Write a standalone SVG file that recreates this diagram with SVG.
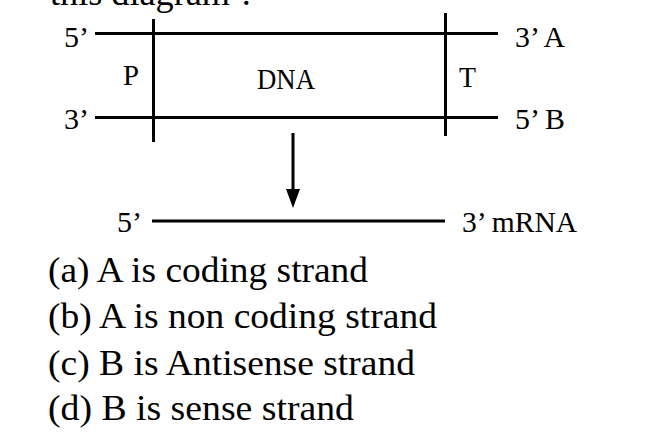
<svg xmlns="http://www.w3.org/2000/svg" width="658" height="434" viewBox="0 0 658 434">
<defs>
<style>
.t{font-family:"Liberation Serif","DejaVu Serif",serif;fill:#000;}
.lbl{font-size:29px;}
.opt{font-size:35px;}
.ln{stroke:#000;stroke-width:3;fill:none;}
</style>
</defs>
<rect width="658" height="434" fill="#fff"/>
<text class="t opt" x="50" y="5" textLength="205" lengthAdjust="spacingAndGlyphs">this diagram ?</text>
<g id="connectors">
<line id="strandA" class="ln" x1="95" y1="33.5" x2="498" y2="33.5"/>
<line id="strandB" class="ln" x1="95" y1="117.5" x2="498" y2="117.5"/>
<line id="promoter-bar" class="ln" x1="153.5" y1="19" x2="153.5" y2="142"/>
<line id="terminator-bar" class="ln" x1="445.5" y1="13" x2="445.5" y2="136"/>
<path id="arrow" d="M293,133 L293,190" class="ln"/>
<path d="M286,189 L300,189 L293,208 Z" fill="#000"/>
<line id="mrna" class="ln" x1="152" y1="221" x2="445" y2="221"/>
</g>
<g id="node-5a"><text class="t lbl" x="64" y="47" textLength="25" lengthAdjust="spacingAndGlyphs">5’</text></g>
<g id="node-3b"><text class="t lbl" x="64" y="129" textLength="25" lengthAdjust="spacingAndGlyphs">3’</text></g>
<g id="node-P"><text class="t lbl" x="123" y="85" textLength="16" lengthAdjust="spacingAndGlyphs">P</text></g>
<g id="node-DNA"><text class="t lbl" x="257" y="89" textLength="58" lengthAdjust="spacingAndGlyphs">DNA</text></g>
<g id="node-T"><text class="t lbl" x="459" y="87" textLength="17" lengthAdjust="spacingAndGlyphs">T</text></g>
<g id="node-A"><text class="t lbl" x="515" y="47" textLength="50" lengthAdjust="spacingAndGlyphs">3’ A</text></g>
<g id="node-B"><text class="t lbl" x="515" y="129" textLength="50" lengthAdjust="spacingAndGlyphs">5’ B</text></g>
<g id="node-m5"><text class="t lbl" x="117" y="232" textLength="25" lengthAdjust="spacingAndGlyphs">5’</text></g>
<g id="node-mRNA"><text class="t lbl" x="462" y="232" textLength="115" lengthAdjust="spacingAndGlyphs">3’ mRNA</text></g>
<g id="options">
<text class="t opt" x="48" y="282" textLength="320" lengthAdjust="spacingAndGlyphs">(a) A is coding strand</text>
<text class="t opt" x="48" y="328" textLength="389" lengthAdjust="spacingAndGlyphs">(b) A is non coding strand</text>
<text class="t opt" x="48" y="375" textLength="367" lengthAdjust="spacingAndGlyphs">(c) B is Antisense strand</text>
<text class="t opt" x="48" y="420" textLength="306" lengthAdjust="spacingAndGlyphs">(d) B is sense strand</text>
</g>
</svg>
